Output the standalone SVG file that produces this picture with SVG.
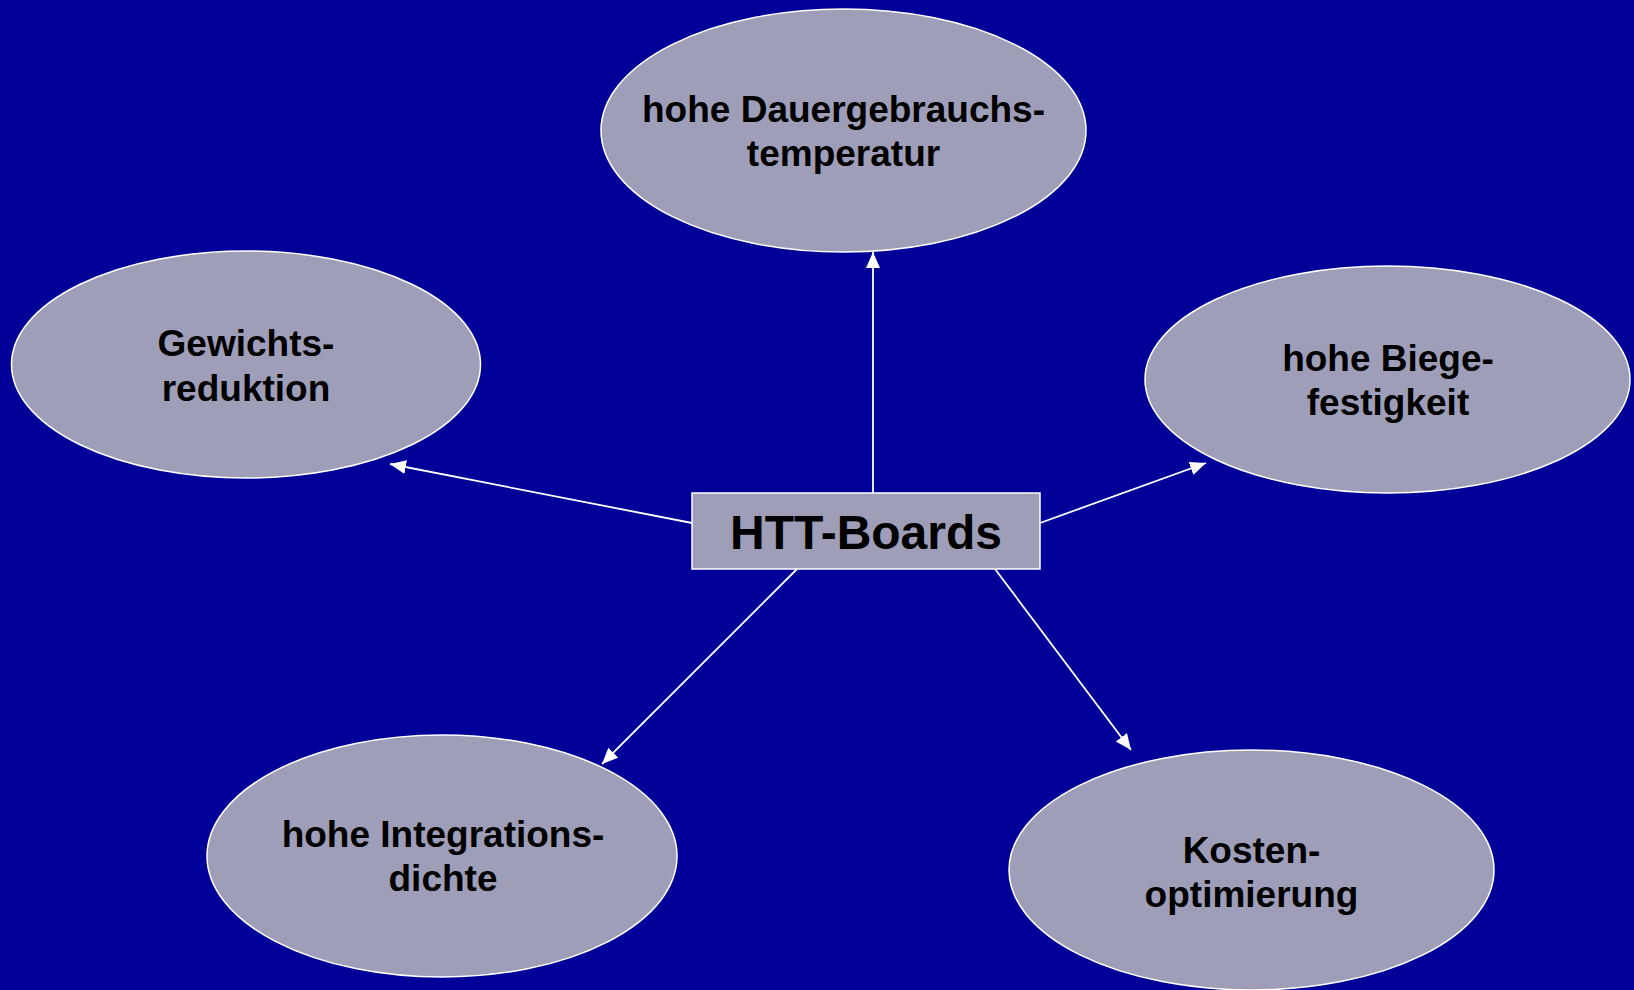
<svg xmlns="http://www.w3.org/2000/svg" width="1634" height="990" viewBox="0 0 1634 990">
  <defs>
    <marker id="arrow" markerUnits="userSpaceOnUse" markerWidth="17" markerHeight="15" refX="16" refY="7" orient="auto">
      <path d="M0,0 L16,7 L0,14 z" fill="#ffffff"/>
    </marker>
    <style>
      .node { fill: #9e9eb8; stroke: #ffffff; stroke-width: 1.5; }
      .conn { stroke: #ffffff; stroke-width: 1.8; fill: none; marker-end: url(#arrow); }
      .lbl { font-family: "Liberation Sans", Arial, sans-serif; font-weight: bold; font-size: 37px; fill: #000000; text-anchor: middle; }
      .big { font-size: 48px; }
    </style>
  </defs>
  <rect x="0" y="0" width="1634" height="990" fill="#000099"/>

  <g id="connectors">
    <line class="conn" x1="873" y1="493" x2="873" y2="252"/>
    <line class="conn" x1="692" y1="523" x2="390" y2="464"/>
    <line class="conn" x1="1040" y1="523" x2="1206" y2="463"/>
    <line class="conn" x1="797" y1="569" x2="602" y2="764"/>
    <line class="conn" x1="995" y1="569" x2="1131" y2="750"/>
  </g>

  <g id="node-top">
    <ellipse class="node" cx="843.5" cy="130.5" rx="242.5" ry="121.5"/>
    <text class="lbl" x="843.5" y="122">hohe Dauergebrauchs-</text>
    <text class="lbl" x="843.5" y="166">temperatur</text>
  </g>

  <g id="node-left">
    <ellipse class="node" cx="246" cy="364.5" rx="234.5" ry="113.5"/>
    <text class="lbl" x="246" y="356">Gewichts-</text>
    <text class="lbl" x="246" y="401">reduktion</text>
  </g>

  <g id="node-right">
    <ellipse class="node" cx="1387.5" cy="379.5" rx="242.5" ry="113.5"/>
    <text class="lbl" x="1388" y="371">hohe Biege-</text>
    <text class="lbl" x="1388" y="415">festigkeit</text>
  </g>

  <g id="node-bottom-left">
    <ellipse class="node" cx="442" cy="856" rx="235" ry="121"/>
    <text class="lbl" x="443" y="847">hohe Integrations-</text>
    <text class="lbl" x="443" y="891">dichte</text>
  </g>

  <g id="node-bottom-right">
    <ellipse class="node" cx="1251.5" cy="870" rx="242.5" ry="120"/>
    <text class="lbl" x="1251.5" y="863">Kosten-</text>
    <text class="lbl" x="1251.5" y="907">optimierung</text>
  </g>

  <g id="node-center">
    <rect class="node" x="692" y="493" width="348" height="76"/>
    <text class="lbl big" x="866" y="549">HTT-Boards</text>
  </g>
</svg>
